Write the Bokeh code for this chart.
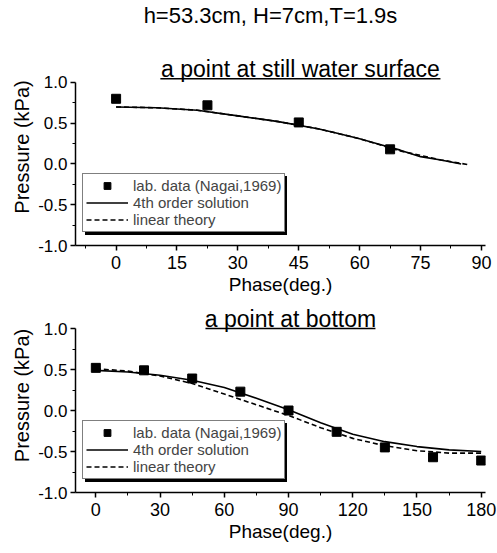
from bokeh.plotting import figure
from bokeh.layouts import column
from bokeh.models import Div, Range1d, FixedTicker, Legend, LegendItem, NumeralTickFormatter
from bokeh.core.properties import value
from bokeh.embed import file_html
from bokeh.resources import INLINE

# ---- data: top panel (point at still water surface) ----
top_lab_phase = [0, 22.5, 45, 67.5]
top_lab_p = [0.80, 0.72, 0.51, 0.18]
top_4th_phase = [0, 10, 20, 30, 40, 50, 55, 60, 65, 70, 75, 80, 85]
top_4th_p = [0.70, 0.69, 0.66, 0.59, 0.52, 0.43, 0.37, 0.31, 0.24, 0.17, 0.09, 0.05, 0.0]
top_lin_phase = [0, 10, 20, 30, 40, 50, 60, 70, 80, 87]
top_lin_p = [0.70, 0.69, 0.66, 0.59, 0.52, 0.43, 0.31, 0.16, 0.05, -0.01]

# ---- data: bottom panel (point at bottom) ----
bot_lab_phase = [0, 22.5, 45, 67.5, 90, 112.5, 135, 157.5, 180]
bot_lab_p = [0.52, 0.49, 0.39, 0.23, 0.00, -0.26, -0.45, -0.57, -0.61]
bot_4th_phase = [0, 15, 30, 45, 60, 75, 90, 105, 120, 135, 150, 165, 180]
bot_4th_p = [0.49, 0.47, 0.43, 0.37, 0.28, 0.15, 0.01, -0.15, -0.29, -0.38, -0.44, -0.48, -0.50]
bot_lin_phase = [0, 15, 30, 45, 60, 75, 90, 105, 120, 135, 150, 165, 180]
bot_lin_p = [0.51, 0.48, 0.42, 0.33, 0.20, 0.07, -0.06, -0.21, -0.34, -0.43, -0.49, -0.52, -0.52]

top_xticks = [0, 15, 30, 45, 60, 75, 90]
bot_xticks = [0, 30, 60, 90, 120, 150, 180]
yticks = [-1.0, -0.5, 0.0, 0.5, 1.0]

main_title = "h=53.3cm, H=7cm,T=1.9s"
top_title = "a point at still water surface"
bot_title = "a point at bottom"
legend_labels = ["lab. data (Nagai,1969)", "4th order solution", "linear theory"]

FONT = "Liberation Sans"
W = 497


def make_panel(height, xr, ytop, xticks, lab_x, lab_y, s_x, s_y, d_x, d_y,
               title, t_x, t_y, u_x0, u_x1, u_y):
    p = figure(width=W, height=height, output_backend="svg", toolbar_location=None,
               x_range=xr, y_range=Range1d(-1.0, ytop),
               min_border_left=75, min_border_right=12,
               min_border_top=0, min_border_bottom=53)
    p.outline_line_color = None
    p.grid.visible = False
    p.background_fill_color = "white"
    p.border_fill_color = "white"

    step = xticks[1] - xticks[0]
    p.xaxis.ticker = FixedTicker(ticks=xticks,
                                 minor_ticks=[t - step / 2 for t in xticks])
    p.yaxis.ticker = FixedTicker(ticks=yticks, minor_ticks=[-0.75, -0.25, 0.25, 0.75])
    p.yaxis.formatter = NumeralTickFormatter(format="0.0")
    p.yaxis.bounds = (-1.0, 1.0)
    for ax in (p.xaxis, p.yaxis):
        ax.axis_line_color = "black"
        ax.axis_line_width = 1.5
        ax.major_tick_in = 0
        ax.major_tick_out = 5
        ax.minor_tick_in = 0
        ax.minor_tick_out = 3
        ax.major_tick_line_width = 1.5
        ax.major_label_text_font = FONT
        ax.major_label_text_color = "black"
        ax.axis_label_text_font = FONT
        ax.axis_label_text_font_style = "normal"
        ax.axis_label_text_color = "black"
    p.xaxis.axis_label_text_font_size = "19px"
    p.yaxis.axis_label_text_font_size = "20px"
    p.xaxis.major_label_text_font_size = "18px"
    p.yaxis.major_label_text_font_size = "17px"
    p.xaxis.major_label_standoff = 5
    p.yaxis.major_label_standoff = 3
    p.xaxis.axis_label = "Phase(deg.)"
    p.yaxis.axis_label = "Pressure (kPa)"
    p.xaxis.axis_label_standoff = 2
    p.yaxis.axis_label_standoff = 2

    # panel title with underline
    p.text(x=[t_x], y=[t_y], text=[title], text_font=value(FONT), text_font_size="23px",
           text_color="black", text_align="center", text_baseline="alphabetic")
    p.segment(x0=[u_x0], y0=[u_y], x1=[u_x1], y1=[u_y], line_color="black", line_width=1.6)

    r_lab = p.scatter(lab_x, lab_y, marker="square", size=9, color="black")
    r_sol = p.line(s_x, s_y, line_color="black", line_width=1.6)
    r_lin = p.line(d_x, d_y, line_color="black", line_width=1.6, line_dash="5 3")

    common = dict(orientation="vertical", label_text_font=FONT, label_text_font_size="15px",
                  glyph_width=42, glyph_height=17, label_height=17, label_width=147,
                  label_standoff=5, padding=3, spacing=0, margin=0,
                  border_line_color="black", border_line_width=1.5)
    # drop shadow of the legend box (blank labels, black box)
    shadow = Legend(items=[LegendItem(label=" ", renderers=[r_lab]),
                           LegendItem(label=" ", renderers=[r_sol]),
                           LegendItem(label=" ", renderers=[r_lin])],
                    location=(10, 10), background_fill_color="black",
                    background_fill_alpha=1.0, **common)
    leg = Legend(items=[LegendItem(label=legend_labels[0], renderers=[r_lab]),
                        LegendItem(label=legend_labels[1], renderers=[r_sol]),
                        LegendItem(label=legend_labels[2], renderers=[r_lin])],
                 location=(7, 13), background_fill_color="white",
                 background_fill_alpha=1.0, **common)
    p.add_layout(shadow, "center")
    p.add_layout(leg, "center")
    return p


title_div = Div(text=main_title, width=W, height=38,
                styles={"font-family": FONT, "font-size": "22px", "color": "black",
                        "text-align": "center", "width": f"{W}px", "padding-left": "34px",
                        "box-sizing": "border-box", "line-height": "22px"})

p1 = make_panel(250, Range1d(-10, 91), 1.417, top_xticks, top_lab_phase, top_lab_p,
                top_4th_phase, top_4th_p, top_lin_phase, top_lin_p,
                top_title, 45.4, 1.161, 10.9, 79.9, 1.045)
p2 = make_panel(247, Range1d(-9.5, 182), 1.366, bot_xticks, bot_lab_phase, bot_lab_p,
                bot_4th_phase, bot_4th_p, bot_lin_phase, bot_lin_p,
                bot_title, 90.9, 1.115, 51.2, 130.6, 1.0)

layout = column(title_div, p1, p2, spacing=0)
open("out.html", "w").write(file_html(layout, INLINE))
